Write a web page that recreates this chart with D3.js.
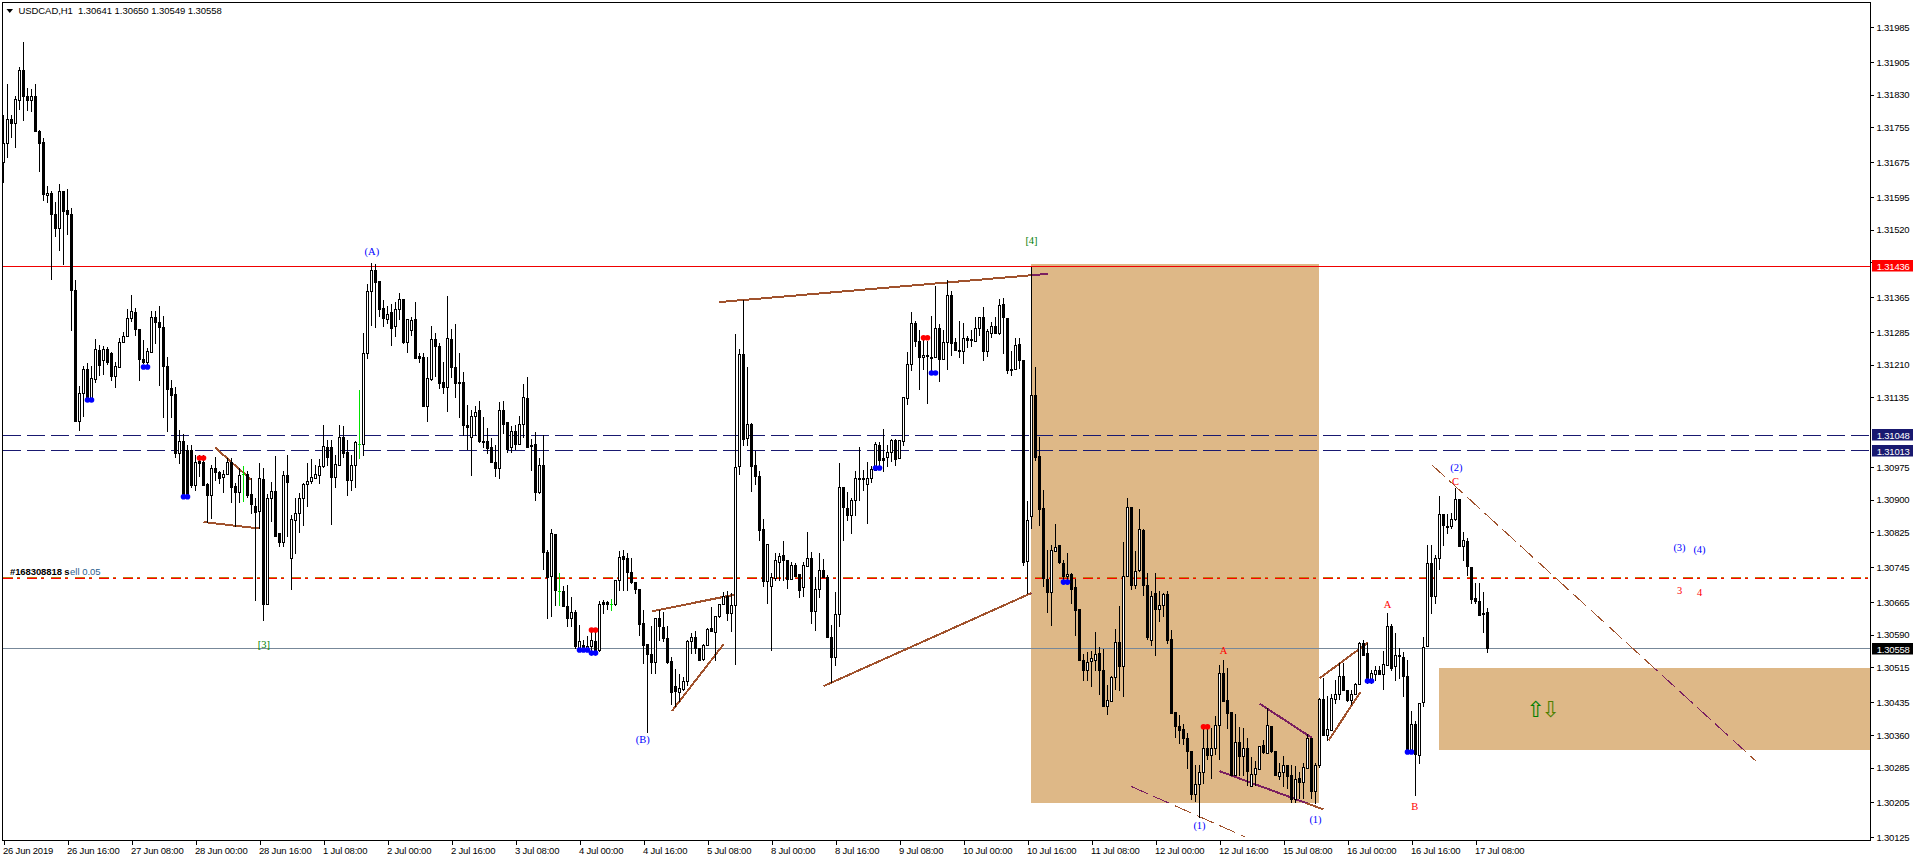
<!DOCTYPE html>
<html><head><meta charset="utf-8">
<script src="https://cdn.jsdelivr.net/npm/d3@7/dist/d3.min.js"></script>
<style>
html,body{margin:0;padding:0;background:#fff;overflow:hidden}
svg{display:block}
text{white-space:pre}
</style></head><body><svg id="c" width="1916" height="861"></svg>
<script>
// Prices are stored in points (0.00001) above 1.30000
const PRICE_BASE = 1.3, POINT = 0.00001;
const opens = [
1674,1719,1773,1763,1816,1886,1826,1816,1826,1746,
1721,1598,1603,1556,1522,1608,1564,1556,1380,1079,
1144,1199,1132,1177,1243,1219,1245,1235,1184,1203,
1262,1274,1316,1331,1291,1222,1216,1239,1318,1307,
1296,1205,1155,1142,1007,1034,1014,1014,932,987,
985,935,909,972,962,952,958,985,931,916,
958,958,912,884,872,946,659,903,920,822,
801,955,765,853,868,903,936,942,950,956,
977,1021,1021,952,979,1044,1008,945,978,1027,
1027,1236,1379,1427,1402,1339,1315,1330,1297,1337,
1360,1262,1288,1314,1229,1226,1115,1177,1268,1252,
1169,1159,1268,1203,1170,1169,1070,1044,1092,1105,
1035,1033,1019,985,972,1106,1077,1019,1057,1027,
1074,1132,1025,1028,916,979,779,723,821,690,
690,656,627,642,559,566,557,562,574,553,
664,664,660,660,715,770,765,733,710,694,
616,568,545,526,627,607,582,529,471,457,
465,482,574,584,559,534,565,604,595,631,
660,677,640,657,976,1234,1041,1074,979,954,
832,712,702,719,757,772,761,718,749,729,
698,746,765,644,694,738,721,583,537,637,
928,881,863,899,950,950,935,950,968,1025,
995,996,1008,1036,994,1033,1132,1210,1305,1264,
1226,1231,1227,1226,1293,1222,1261,1370,1261,1243,
1240,1270,1268,1263,1293,1318,1240,1283,1298,1283,
1349,1316,1200,1200,1257,1221,758,861,1140,999,
880,716,686,782,796,754,723,729,699,647,
530,507,528,532,546,509,426,436,492,572,
517,723,882,704,738,830,704,578,685,647,
658,683,580,412,380,373,352,323,224,247,
273,329,312,329,381,501,438,412,268,343,
310,329,241,270,281,335,318,379,322,264,
274,289,266,212,259,250,282,351,230,289,
442,358,370,442,452,494,463,438,454,477,
570,547,486,499,507,499,519,610,517,543,
538,495,322,384,313,434,563,754,679,765,
866,839,838,855,901,792,805,745,673,667,
639,641];
const highs = [
1783,1854,1783,1826,1892,1949,1844,1843,1854,1748,
1729,1620,1608,1583,1625,1608,1613,1569,1404,1160,
1205,1214,1205,1268,1255,1251,1249,1239,1216,1270,
1285,1337,1370,1339,1291,1266,1247,1332,1332,1343,
1320,1226,1174,1159,1058,1050,1025,1025,1002,1002,
1002,937,979,998,966,968,994,994,937,972,
977,964,950,903,983,972,913,939,1000,822,
964,1002,863,903,914,937,983,992,979,992,
1071,1037,1037,1002,1071,1069,1037,1002,1033,1151,
1281,1394,1442,1441,1402,1358,1343,1348,1354,1374,
1360,1314,1318,1353,1235,1235,1226,1298,1281,1258,
1216,1366,1290,1302,1235,1193,1117,1105,1115,1126,
1090,1063,1040,1025,1124,1126,1077,1069,1071,1092,
1165,1181,1039,1054,995,1047,784,832,821,731,
702,704,676,645,612,578,585,604,597,666,
669,667,672,715,782,784,777,765,711,694,
645,568,610,627,645,641,608,537,511,499,
491,578,593,598,559,568,604,653,633,660,
687,689,685,1279,1246,1357,1203,1075,1012,964,
855,797,730,777,777,805,761,757,754,729,
755,824,778,721,777,763,727,612,686,983,
928,917,903,964,1020,968,986,976,1031,1031,
1061,1025,1039,1039,1036,1135,1238,1330,1310,1289,
1266,1263,1320,1390,1303,1289,1404,1379,1270,1310,
1305,1276,1289,1318,1318,1341,1291,1308,1318,1360,
1362,1316,1241,1270,1270,1221,896,1434,1204,1043,
921,784,796,843,796,760,777,731,716,647,
545,549,551,595,560,557,473,494,603,656,
801,903,882,782,878,832,731,689,731,689,
685,689,601,412,404,383,364,323,291,291,
379,375,375,402,519,532,513,412,406,377,
375,352,309,300,333,348,421,379,322,295,
310,291,291,287,274,295,360,351,295,444,
490,448,452,486,524,524,463,463,478,572,
578,570,509,517,517,551,638,614,593,559,
550,532,413,392,432,583,796,794,771,908,
866,866,868,926,901,826,810,745,708,708,
687,650];
const lows = [
1628,1687,1731,1710,1797,1770,1794,1791,1745,1655,
1588,1583,1407,1504,1472,1441,1510,1288,1079,1058,
1092,1128,1128,1170,1186,1188,1210,1174,1159,1203,
1262,1274,1310,1278,1173,1213,1210,1239,1258,1163,
1090,1056,1090,997,983,910,906,929,922,954,
933,848,857,945,937,916,958,893,838,893,
895,906,868,668,834,623,659,850,815,792,
793,815,695,776,824,840,884,937,950,937,
975,979,844,929,979,998,909,922,929,994,
1002,1224,1301,1295,1320,1297,1305,1255,1275,1315,
1260,1239,1278,1224,1216,1115,1079,1174,1182,1155,
1144,1102,1180,1136,1090,1048,1016,955,1048,1031,
1021,1006,985,954,950,1052,1008,1008,1016,1027,
1044,1019,968,899,914,740,627,633,658,658,
654,608,608,559,555,555,555,555,547,551,
639,648,645,658,692,691,692,708,685,588,
524,366,501,501,578,574,524,429,425,436,
463,473,547,547,530,532,565,597,532,630,
660,622,597,522,959,1024,1024,918,934,807,
700,662,553,715,715,715,696,718,725,675,
677,746,617,601,675,721,583,480,519,608,
806,853,823,865,899,922,845,940,968,972,
966,976,987,979,994,1025,1119,1197,1253,1154,
1200,1122,1190,1226,1171,1222,1200,1232,1242,1226,
1214,1249,1251,1263,1278,1220,1228,1272,1282,1280,
1236,1190,1186,1200,1202,750,685,833,991,842,
700,641,612,782,754,708,716,662,589,530,
486,486,471,509,454,425,408,436,465,463,
448,723,693,696,735,681,580,565,542,620,
631,570,410,354,341,339,282,211,208,171,
249,304,259,316,304,436,375,266,268,266,
268,245,241,245,281,318,318,319,266,258,
241,237,204,204,214,214,282,214,203,285,
358,348,370,432,442,463,436,429,454,477,
543,478,478,486,498,465,519,509,486,490,
448,322,322,221,295,426,563,639,662,741,
796,823,834,853,792,760,727,662,663,634,
595,549];
const closes = [
1719,1773,1763,1819,1886,1827,1816,1826,1745,1719,
1600,1603,1556,1522,1608,1563,1556,1380,1079,1144,
1199,1132,1178,1245,1209,1245,1216,1184,1206,1262,
1274,1316,1333,1291,1222,1216,1241,1318,1308,1295,
1205,1154,1140,1007,1034,910,910,933,985,983,
933,909,972,962,950,959,985,929,916,956,
958,910,889,870,949,659,903,920,815,801,
955,939,855,868,903,936,941,951,959,977,
1023,998,952,981,1044,1006,945,979,1031,1027,
1236,1379,1427,1398,1337,1316,1325,1294,1337,1360,
1262,1314,1312,1224,1224,1115,1178,1268,1251,1168,
1157,1270,1203,1168,1168,1071,1065,1092,1101,1033,
1033,1017,985,972,1106,1074,1016,1057,1028,1073,
1135,1019,1024,916,979,779,721,822,691,690,
654,627,641,562,574,557,564,578,551,660,
660,660,660,715,767,764,733,709,694,614,
565,545,526,627,608,582,526,457,459,467,
482,575,584,559,532,566,602,597,633,660,
677,640,657,974,1234,1039,1074,976,953,830,
712,797,722,761,770,761,718,749,725,691,
748,765,644,694,738,721,583,539,637,928,
882,863,899,949,949,949,949,969,1028,991,
991,1008,1036,993,1036,1135,1210,1305,1263,1226,
1231,1228,1226,1293,1222,1261,1370,1260,1242,1240,
1270,1266,1266,1293,1318,1240,1287,1298,1283,1347,
1319,1196,1197,1254,1219,756,852,1140,997,877,
720,686,784,790,755,723,729,695,645,530,
507,527,536,545,507,426,438,492,572,517,
723,882,704,735,832,703,583,679,647,658,
683,576,410,379,371,352,322,224,247,274,
329,312,329,382,501,436,410,266,343,310,
329,277,270,283,333,319,381,322,266,274,
289,264,212,258,250,286,351,230,291,442,
358,373,444,454,494,463,439,454,477,570,
543,482,500,507,499,522,610,513,542,540,
494,322,384,314,432,561,754,679,765,867,
840,836,855,901,792,806,746,672,666,634,
637,558];

const timeLabels = ["26 Jun 2019","26 Jun 16:00","27 Jun 08:00","28 Jun 00:00","28 Jun 16:00","1 Jul 08:00","2 Jul 00:00","2 Jul 16:00","3 Jul 08:00","4 Jul 00:00","4 Jul 16:00","5 Jul 08:00","8 Jul 00:00","8 Jul 16:00","9 Jul 08:00","10 Jul 00:00","10 Jul 16:00","11 Jul 08:00","12 Jul 00:00","12 Jul 16:00","15 Jul 08:00","16 Jul 00:00","16 Jul 16:00","17 Jul 08:00"];
const BARS_PER_TIME_LABEL = 16;
const priceTicks = [1.31985,1.31905,1.31830,1.31755,1.31675,1.31595,1.31520,1.31445,1.31365,1.31285,1.31210,1.31135,1.30975,1.30900,1.30825,1.30745,1.30665,1.30590,1.30515,1.30435,1.30360,1.30285,1.30205,1.30125];

const titleText = "USDCAD,H1  1.30641 1.30650 1.30549 1.30558";
const resistanceLevel = 1.31436;
const zoneLevels = [1.31048, 1.31013];
const lastPrice = 1.30558;
const tradeLevel = 1.30722;
const tradeLabelHead = "#168308818 s";
const tradeLabelTail = "ell 0.05";

// zones: [fromBar, toBar, upperPts, lowerPts]
const zones = [[257,329,1441,204],[359,null,513,325]];
// trend lines: [fromBar, fromPts, toBar, toPts]
const solidTrends = [[52.9,1020,61.8,947],[50,849,64,834],[178.9,1354,261.2,1419],[162.1,644,182.7,682],[167.1,415,180,568],[205,472,257,686],[314,432,327,354],[304,277,330,189],[329,490,341.1,572],[331.3,348,339.2,458]];
const dashedTrends = [[281.9,242,310.4,126],[357,981,438,301]];
// marker dots
const blueDotBars = [21,22,35,36,45,46,144,145,146,147,148,218,219,232,233,265,266,341,342,351,352];
const blueDotPts  = [1129,1129,1205,1205,907,907,555,555,555,548,548,973,973,1191,1191,711,711,484,484,321,321];
const redDotBars = [49,50,147,148,230,231,300,301];
const redDotPts  = [996,996,601,601,1272,1272,379,379];
// wave labels
const waveTexts = ["(A)","[3]","[4]","(B)","(1)","(1)","A","A","B","C","(2)","(3)","(4)","3","4"];
const waveBars  = [92.1,65.1,257,159.8,299,328,305,346,352.8,363,363.2,419,424,419,424];
const wavePts   = [1471,568,1496,350,152,167,555,660,197,943,975,791,787,693,687];
const waveKinds = ["wave","sub","sub","wave","wave","wave","abc","abc","abc","abc","wave","wave","wave","abc","abc"];
// arrows inside the lower zone
const arrowGlyphs = ["\u21E7","\u21E9"];
const arrowBars = [383,386.75];
const arrowPts = [420,420];

const FONT = "'Liberation Sans',Arial,sans-serif";
const BROWN="#A0522D", PURPLE="#7A1F60", ZONE="#DEB887", NAVY="#191970";
const W=1916, H=861, L=2.5, R=1870.5, T=2.5, B=840.5;

const svg = d3.select("#c");
const x = d3.scaleLinear().domain([0,100]).range([3.5,403.5]);
const y = d3.scaleLinear().domain([1.31985,1.30125]).range([27.3,837.3]);
const p = v => PRICE_BASE + v*POINT;
const py = v => y(p(v));
const snap = v => Math.floor(v)+0.5;
const crisp = "crispEdges";

const defs = svg.append("defs");
defs.append("clipPath").attr("id","plot").append("rect").attr("x",L).attr("y",T).attr("width",R-L).attr("height",B-T);
const zoneRect = z => {
  const x0=Math.round(x(z[0])-.5), x1=z[1]==null?R:Math.round(x(z[1])-.5), y0=Math.round(py(z[2])), y1=Math.round(py(z[3]));
  return {x0,x1,y0,y1};
};
defs.append("clipPath").attr("id","inZones").selectAll("rect").data(zones).join("rect")
  .attr("x",z=>zoneRect(z).x0).attr("y",z=>zoneRect(z).y0)
  .attr("width",z=>zoneRect(z).x1-zoneRect(z).x0).attr("height",z=>zoneRect(z).y1-zoneRect(z).y0);
const outPath = `M0 0H${W}V${H}H0Z` + zones.map(z=>{const r=zoneRect(z);return `M${r.x0} ${r.y0}H${r.x1}V${r.y1}H${r.x0}Z`}).join("");
defs.append("clipPath").attr("id","outZones").append("path").attr("d",outPath).attr("clip-rule","evenodd");

const plot = svg.append("g").attr("clip-path","url(#plot)");

// zones
plot.append("g").selectAll("rect").data(zones).join("rect")
  .attr("x",z=>zoneRect(z).x0).attr("y",z=>zoneRect(z).y0)
  .attr("width",z=>zoneRect(z).x1-zoneRect(z).x0).attr("height",z=>zoneRect(z).y1-zoneRect(z).y0)
  .attr("fill",ZONE);

// horizontal levels
const hline = (price,color,dash) => plot.append("line").attr("x1",L).attr("x2",R)
  .attr("y1",snap(y(price))).attr("y2",snap(y(price))).attr("stroke",color).attr("stroke-width",1)
  .attr("stroke-dasharray",dash||null).attr("shape-rendering",crisp);
hline(resistanceLevel,"#F00000");
zoneLevels.forEach(v=>hline(v,NAVY,"18 6"));
hline(lastPrice,"#778899");
plot.append("line").attr("x1",L).attr("x2",R).attr("y1",snap(y(tradeLevel))+1).attr("y2",snap(y(tradeLevel))+1)
  .attr("stroke","#FF0000").attr("stroke-dasharray","10 4 3 7").attr("shape-rendering",crisp);
plot.append("line").attr("x1",L).attr("x2",R).attr("y1",snap(y(tradeLevel))).attr("y2",snap(y(tradeLevel)))
  .attr("stroke","#C07A10").attr("stroke-dasharray","10 4 3 7").attr("shape-rendering",crisp);

// trend lines: brown on the white paper, purple where they cross a zone
const drawTrends = (rows,width,dash) => [["outZones",BROWN],["inZones",PURPLE]].forEach(([clip,color])=>{
  plot.append("g").attr("clip-path",`url(#${clip})`).selectAll("line").data(rows).join("line")
    .attr("x1",d=>x(d[0])).attr("y1",d=>py(d[1])).attr("x2",d=>x(d[2])).attr("y2",d=>py(d[3]))
    .attr("stroke",color).attr("stroke-width",width).attr("stroke-dasharray",dash||null)
    .attr("shape-rendering",crisp);
});
drawTrends(solidTrends,2);
drawTrends(dashedTrends,1,"18 6");

// candles
const bars = d3.range(opens.length);
const candles = plot.append("g").attr("shape-rendering",crisp);
candles.selectAll("line").data(bars).join("line")
  .attr("x1",i=>x(i)).attr("x2",i=>x(i))
  .attr("y1",i=>Math.floor(py(highs[i]))).attr("y2",i=>Math.floor(py(lows[i]))+1)
  .attr("stroke",i=>opens[i]===closes[i]?"#00E000":"#000");
candles.selectAll("rect").data(bars.filter(i=>opens[i]!==closes[i])).join("rect")
  .attr("x",i=>x(i)-1).attr("width",2)
  .attr("y",i=>snap(py(Math.max(opens[i],closes[i]))))
  .attr("height",i=>Math.max(1,snap(py(Math.min(opens[i],closes[i])))-snap(py(Math.max(opens[i],closes[i])))))
  .attr("fill",i=>closes[i]>opens[i]?"#fff":"#000").attr("stroke","#000");
candles.selectAll("line.tick").data(bars.filter(i=>opens[i]===closes[i])).join("line").attr("class","tick")
  .attr("x1",i=>x(i)-1.5).attr("x2",i=>x(i)+1.5).attr("y1",i=>snap(py(opens[i]))).attr("y2",i=>snap(py(opens[i])))
  .attr("stroke","#00E000");

// dots
const dots = (bs,ps,color) => plot.append("g").selectAll("circle").data(bs).join("circle")
  .attr("cx",b=>x(b)).attr("cy",(b,i)=>py(ps[i])).attr("r",2.8).attr("fill",color);
dots(blueDotBars,blueDotPts,"#0000FF");
dots(redDotBars,redDotPts,"#FF0000");

// wave labels
const waveColor = {wave:"#0000FF",sub:"#008000",abc:"#FF0000"};
svg.append("g").selectAll("text").data(waveTexts).join("text")
  .attr("x",(d,i)=>x(waveBars[i])).attr("y",(d,i)=>py(wavePts[i])).attr("dy","0.34em")
  .attr("text-anchor","middle").attr("font-family","'Liberation Serif',serif").attr("font-size",10.5)
  .attr("fill",(d,i)=>waveColor[waveKinds[i]]).text(d=>d);
svg.append("g").selectAll("text").data(arrowGlyphs).join("text")
  .attr("x",(d,i)=>x(arrowBars[i])).attr("y",(d,i)=>py(arrowPts[i])).attr("dy","0.36em")
  .attr("text-anchor","middle").attr("font-family","'DejaVu Sans'").attr("font-size",22)
  .attr("fill",(d,i)=>i===0?"#008000":"#4F7F00").text(d=>d);

// trade label
const trade = svg.append("text").attr("y",574.5).attr("font-family",FONT).attr("font-size",9.5);
trade.append("tspan").attr("x",10).attr("font-weight","bold").attr("letter-spacing",-0.1).attr("fill","#000").text(tradeLabelHead);
trade.append("tspan").attr("x",70).attr("fill","#2A5F8F").text(tradeLabelTail);

// frame
const frame = svg.append("g").attr("shape-rendering",crisp);
frame.append("path").attr("d",`M${L} ${B}V${T}H${R}V${B}H${L}`).attr("fill","none").attr("stroke","#000");

// price axis built with d3
const axisR = d3.axisRight(y).tickValues(priceTicks).tickFormat(d3.format(".5f")).tickSize(3).tickPadding(3);
const gR = svg.append("g").attr("transform",`translate(${R},0)`).call(axisR);
gR.select(".domain").remove();
gR.selectAll("line").attr("shape-rendering",crisp);
gR.selectAll("text").attr("font-family",FONT).attr("font-size",9.5).attr("letter-spacing",-0.2).attr("fill","#000");

// time axis
const xTickBars = timeLabels.map((d,i)=>i*BARS_PER_TIME_LABEL);
const axisB = d3.axisBottom(x).tickValues(xTickBars).tickFormat((d,i)=>timeLabels[i]).tickSize(4).tickPadding(3);
const gB = svg.append("g").attr("transform",`translate(0,${B})`).call(axisB);
gB.select(".domain").remove();
gB.selectAll("line").attr("shape-rendering",crisp);
gB.selectAll("text").attr("font-family",FONT).attr("font-size",9.5).attr("letter-spacing",-0.2).attr("fill","#000").attr("text-anchor","start").attr("dx",-1);

// price tags
const fmt = d3.format(".5f");
const tag = (price,bg) => {
  const cy = Math.round(y(price));
  svg.append("rect").attr("x",1872).attr("width",41).attr("y",cy-6).attr("height",11.5).attr("fill",bg);
  svg.append("text").attr("x",1876.7).attr("y",cy+3.5).attr("font-family",FONT).attr("font-size",9.5).attr("letter-spacing",-0.2).attr("fill","#fff").text(fmt(price));
};
tag(resistanceLevel,"#FF0000");
zoneLevels.forEach(v=>tag(v,NAVY));
tag(lastPrice,"#000");

// title
svg.append("path").attr("d",d3.line()([[6.5,9],[13,9],[9.75,13]])+"Z").attr("fill","#000");
svg.append("text").attr("x",18.4).attr("y",14).attr("font-family",FONT).attr("font-size",9.5).attr("letter-spacing",-0.05).attr("fill","#000").text(titleText);
</script></body></html>
